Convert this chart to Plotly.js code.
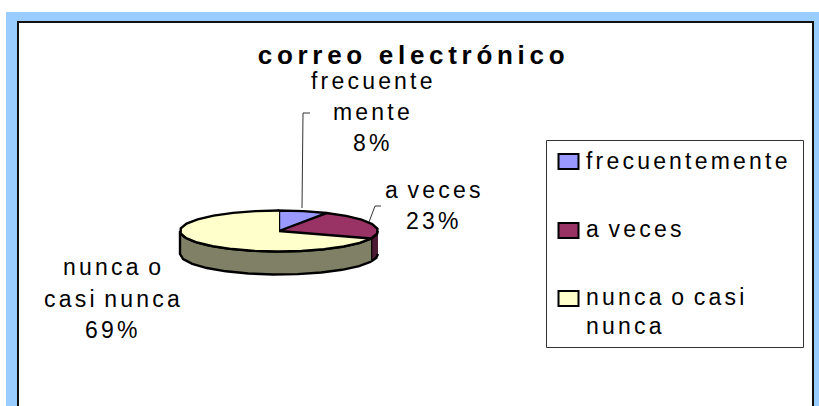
<!DOCTYPE html>
<html>
<head>
<meta charset="utf-8">
<script src="https://cdn.plot.ly/plotly-3.0.1.min.js"></script>
<style>
html,body{margin:0;padding:0;background:#fff;overflow:hidden}
#chart{width:819px;height:406px}
.gtitle{letter-spacing:4.7px}
.annotation-text{letter-spacing:3.2px;word-spacing:-3px}
</style>
</head>
<body>
<div id="chart"></div>
<script>
const chartTitle = "correo electrónico";
const categories = ["frecuentemente", "a veces", "nunca o casi nunca"];
const values = [8, 23, 69];
const sliceColors = ["#9999FF", "#993366", "#FFFFCC"];
const sideColors = ["#4D4D80", "#4D1A33", "#808066"];
const labelLines = [["frecuente", "mente"], ["a veces"], ["nunca o", "casi nunca"]];
const labelCenters = [[373, [88, 119, 150]], [434, [197, 228]], [113, [274, 306, 337]]];
const legendLines = [["frecuentemente"], ["a veces"], ["nunca o casi", "nunca"]];
const legendBaselines = [[168], [236], [304, 333]];
const legendSwatchTops = [154, 223, 291];

const cx = 279, cy = 231, rx = 99, ry = 20.5, depth = 23, facet = 14;
const labelSize = 23, legendSize = 23, titleSize = 26;

function pt(deg, dy) {
  const a = deg * Math.PI / 180;
  return [cx + rx * Math.sin(a), cy - ry * Math.cos(a) + (dy || 0)];
}
function arc(a0, a1, dy) {
  const out = [];
  const n = Math.max(1, Math.round((a1 - a0) / facet));
  for (let i = 0; i <= n; i++) out.push(pt(a0 + (a1 - a0) * i / n, dy));
  return out;
}
function poly(points, fill) {
  return {
    type: "scatter", mode: "lines", fill: "toself", fillcolor: fill,
    x: points.map(p => p[0]), y: points.map(p => p[1]),
    line: {color: "#000", width: 2.4}, hoverinfo: "skip", showlegend: false
  };
}

const total = values.reduce((a, b) => a + b, 0);
let acc = 0;
const spans = values.map(v => { const s = [acc, acc + v / total * 360]; acc = s[1]; return s; });

const traces = [];
spans.forEach((s, i) => {
  const a0 = Math.max(s[0], 90), a1 = Math.min(s[1], 270);
  if (a1 > a0) traces.push(poly(arc(a0, a1, 0).concat(arc(a0, a1, depth).reverse()), sideColors[i]));
});
spans.forEach((s, i) => {
  traces.push(poly([[cx, cy]].concat(arc(s[0], s[1], 0)), sliceColors[i]));
});
const leaders = [[[310, 113], [303, 113], [302, 208]], [[381, 206], [375, 206], [369, 222]]];
leaders.forEach(l => traces.push({
  type: "scatter", mode: "lines", x: l.map(p => p[0]), y: l.map(p => p[1]),
  line: {color: "#333", width: 1}, hoverinfo: "skip", showlegend: false
}));

function textAt(text, x, baseline, size, anchor) {
  return {
    text: text, x: x, y: baseline - size * 0.33 + 1, xref: "x", yref: "y",
    xanchor: anchor, yanchor: "middle", showarrow: false,
    font: {family: "Liberation Sans, Arial, sans-serif", size: size, color: "#000"}
  };
}
const annotations = [];
labelLines.forEach((lines, i) => {
  const c = labelCenters[i];
  lines.concat([values[i] + "%"]).forEach((t, j) => annotations.push(textAt(t, c[0], c[1][j], labelSize, "center")));
});
legendLines.forEach((lines, i) => {
  lines.forEach((t, j) => annotations.push(textAt(t, 584, legendBaselines[i][j], legendSize, "left")));
});

function rect(x0, y0, x1, y1, fill, lineColor, w) {
  return {type: "rect", xref: "x", yref: "y", x0, y0, x1, y1, layer: "below",
    fillcolor: fill, line: {color: lineColor || fill, width: w === undefined ? 0 : w}};
}
const shapes = [
  rect(6, 12, 819, 406, "#99CCFF"),
  rect(18, 22, 813, 410, "#FFFFFF", "#111111", 2),
  rect(546.5, 140.5, 803.5, 347.5, "#FFFFFF", "#333333", 1)
];
legendSwatchTops.forEach((t, i) => shapes.push(rect(558.5, t, 578.5, t + 15, sliceColors[i], "#000", 2)));

Plotly.newPlot("chart", traces, {
  width: 819, height: 406,
  margin: {l: 0, r: 0, t: 0, b: 0, pad: 0},
  paper_bgcolor: "#FFFFFF", plot_bgcolor: "rgba(0,0,0,0)",
  showlegend: false,
  title: {
    text: "<b>" + chartTitle + "</b>", xref: "paper", yref: "paper",
    x: 413.5 / 819, xanchor: "center", y: 1 - 55 / 406, yanchor: "middle",
    font: {family: "Liberation Sans, Arial, sans-serif", size: titleSize, color: "#000"}
  },
  xaxis: {range: [0, 819], visible: false, fixedrange: true},
  yaxis: {range: [406, 0], visible: false, fixedrange: true},
  shapes: shapes,
  annotations: annotations
}, {displayModeBar: false, staticPlot: true});
</script>
</body>
</html>
